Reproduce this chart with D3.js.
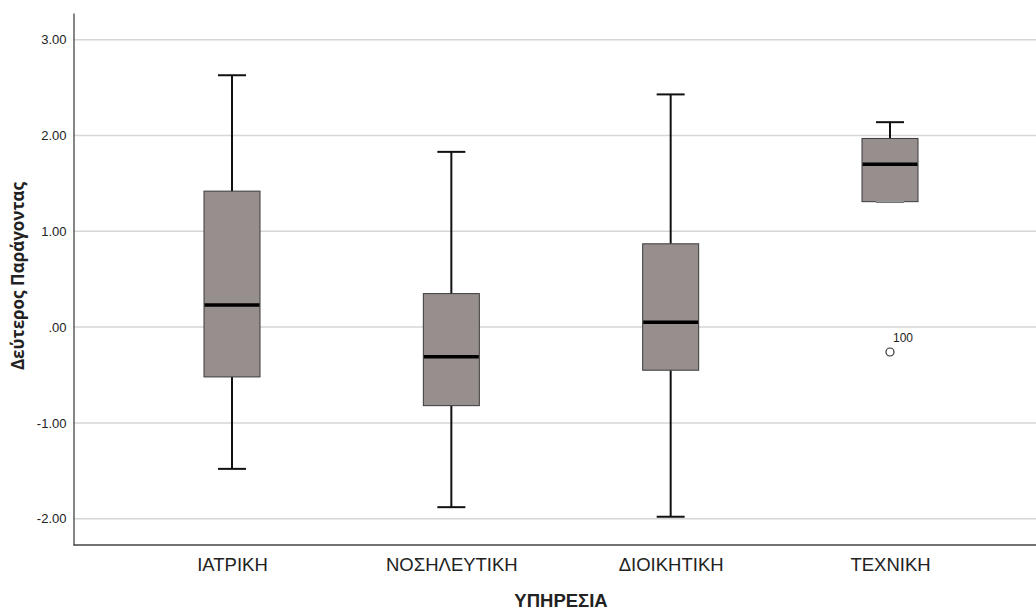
<!DOCTYPE html>
<html lang="el">
<head>
<meta charset="UTF-8">
<script src="https://d3js.org/d3.v7.min.js"></script>
<style>
  html, body { margin: 0; padding: 0; background: #fff; overflow: hidden; }
  svg text { font-family: "Liberation Sans", Arial, sans-serif; fill: #222; }
  .grid line { stroke: #d6d6d6; stroke-width: 1.5px; }
  .box rect { fill: #968f8d; stroke: #3a3a3a; stroke-width: 1px; }
  .whisker { stroke: #111; stroke-width: 2px; }
  .median { stroke: #000; stroke-width: 3.5px; }
</style>
</head>
<body>
<svg id="chart" width="1036" height="612"></svg>
<script>
// group labels (ΥΠΗΡΕΣΙΑ)
const categories = ["ΙΑΤΡΙΚΗ", "ΝΟΣΗΛΕΥΤΙΚΗ", "ΔΙΟΙΚΗΤΙΚΗ", "ΤΕΧΝΙΚΗ"];
// five-number summaries
const whiskerLow  = [-1.48, -1.88, -1.98, 1.31];
const q1          = [-0.52, -0.82, -0.45, 1.31];
const median      = [ 0.23, -0.31,  0.05, 1.70];
const q3          = [ 1.42,  0.35,  0.87, 1.97];
const whiskerHigh = [ 2.63,  1.83,  2.43, 2.14];
// outliers
const outliers = [{ cat: "ΤΕΧΝΙΚΗ", value: -0.26, label: "100" }];
const yTicks = [-2, -1, 0, 1, 2, 3];

const svg = d3.select("#chart");
const W = 1036, H = 612;
const m = { top: 13, right: 0, bottom: 67, left: 73.5 };

const y = d3.scaleLinear().domain([-2.275, 3.28]).range([H - m.bottom, m.top]);
const x = d3.scalePoint().domain(categories).range([m.left + 158.5, W - 146]);
const boxW = 56, capW = 28;

// SPSS style: ".00", plain hyphen for negatives
const fmt = v => v === 0 ? ".00" : v.toFixed(2);

// gridlines
svg.append("g").attr("class", "grid")
  .selectAll("line").data(yTicks).join("line")
  .attr("x1", m.left).attr("x2", W)
  .attr("y1", d => y(d)).attr("y2", d => y(d));

// y axis
const yAxis = svg.append("g")
  .attr("transform", `translate(${m.left},0)`)
  .call(d3.axisLeft(y).tickValues(yTicks).tickFormat(fmt).tickSize(0).tickPadding(7));
yAxis.select(".domain").attr("stroke", "#444").attr("stroke-width", 1.3);
yAxis.selectAll("text").style("font-size", "13px").attr("fill", "#222")
  .style("font-family", "'Liberation Sans', Arial, sans-serif");

// x axis
const xAxis = svg.append("g")
  .attr("transform", `translate(0,${H - m.bottom})`)
  .call(d3.axisBottom(x).tickSize(0).tickPadding(13));
xAxis.select(".domain").attr("d", `M${m.left},0H${W}`).attr("stroke", "#444").attr("stroke-width", 1.3);
xAxis.selectAll("text").style("font-size", "18.5px").attr("fill", "#333")
  .style("font-family", "'Liberation Sans', Arial, sans-serif");

// boxes
const rows = categories.map((c, i) => ({
  c, lo: whiskerLow[i], q1: q1[i], med: median[i], q3: q3[i], hi: whiskerHigh[i]
}));

const g = svg.append("g").selectAll("g").data(rows).join("g");

g.append("line").attr("class", "whisker")
  .attr("x1", d => x(d.c)).attr("x2", d => x(d.c))
  .attr("y1", d => y(d.hi)).attr("y2", d => y(d.q3));
g.append("line").attr("class", "whisker")
  .attr("x1", d => x(d.c)).attr("x2", d => x(d.c))
  .attr("y1", d => y(d.q1)).attr("y2", d => y(d.lo));
g.append("line").attr("class", "whisker")
  .attr("x1", d => x(d.c) - capW / 2).attr("x2", d => x(d.c) + capW / 2)
  .attr("y1", d => y(d.hi)).attr("y2", d => y(d.hi));
g.append("line").attr("class", "whisker")
  .attr("x1", d => x(d.c) - capW / 2).attr("x2", d => x(d.c) + capW / 2)
  .attr("y1", d => y(d.lo)).attr("y2", d => y(d.lo));

g.append("g").attr("class", "box").append("rect")
  .attr("x", d => x(d.c) - boxW / 2).attr("width", boxW)
  .attr("y", d => y(d.q3)).attr("height", d => y(d.q1) - y(d.q3));

// whisker cap that sits on the box edge shows faintly
g.filter(d => d.lo === d.q1).append("line")
  .attr("x1", d => x(d.c) - capW / 2).attr("x2", d => x(d.c) + capW / 2)
  .attr("y1", d => y(d.lo)).attr("y2", d => y(d.lo))
  .attr("stroke", "#999").attr("stroke-width", 1.5);

g.append("line").attr("class", "median")
  .attr("x1", d => x(d.c) - boxW / 2 + 0.5).attr("x2", d => x(d.c) + boxW / 2 - 0.5)
  .attr("y1", d => y(d.med)).attr("y2", d => y(d.med));

// outliers
const o = svg.append("g").selectAll("g").data(outliers).join("g");
o.append("circle")
  .attr("cx", d => x(d.cat)).attr("cy", d => y(d.value)).attr("r", 4)
  .attr("fill", "#fff").attr("stroke", "#333").attr("stroke-width", 1.2);
o.append("text")
  .attr("x", d => x(d.cat) + 3).attr("y", d => y(d.value) - 10)
  .style("font-size", "12px").text(d => d.label);

// axis titles
svg.append("text")
  .attr("transform", `translate(24,${(m.top + H - m.bottom) / 2 - 3}) rotate(-90)`)
  .attr("text-anchor", "middle")
  .style("font-family", "'Open Sans', sans-serif")
  .style("font-weight", "bold").style("font-size", "17px").attr("fill", "#111")
  .text("Δεύτερος Παράγοντας");

svg.append("text")
  .attr("x", 561).attr("y", 607)
  .attr("text-anchor", "middle")
  .style("font-weight", "bold").style("font-size", "18.5px").attr("fill", "#111")
  .text("ΥΠΗΡΕΣΙΑ");
</script>
</body>
</html>
